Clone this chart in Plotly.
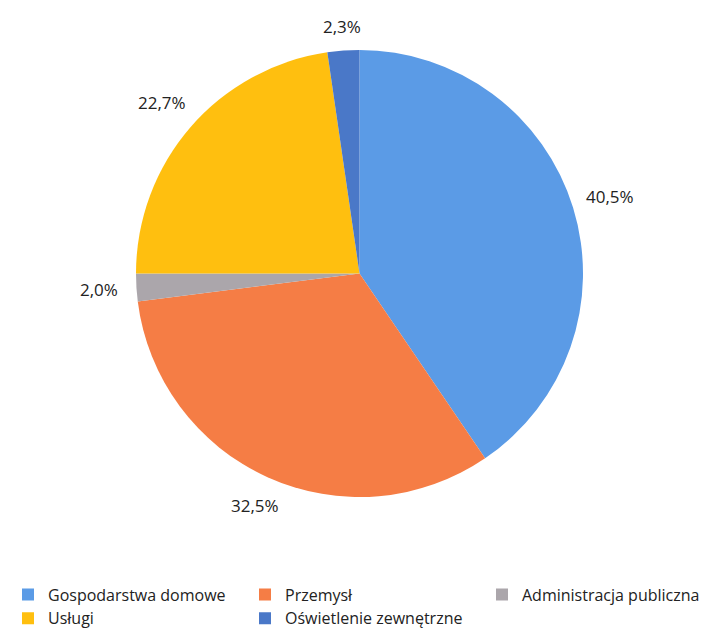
import math
import plotly.graph_objects as go

# data
labels = ["Gospodarstwa domowe", "Przemysł", "Administracja publiczna", "Usługi", "Oświetlenie zewnętrzne"]
values = [40.5, 32.5, 2.0, 22.7, 2.3]
colors = ["#5b9be6", "#f57d45", "#aba6ab", "#ffbf0f", "#4a78c8"]

# page has an 8px body margin, so coordinates below are shifted by 8px
W, H = 710, 623
# pie placement in figure pixels (domain)
x0, x1, y0, y1 = 128, 575, 39, 492
cx, cy = (x0 + x1) / 2, (y0 + y1) / 2
r = min(x1 - x0, y1 - y0) / 2

fig = go.Figure(
    go.Pie(
        labels=labels,
        values=values,
        sort=False,
        direction="clockwise",
        rotation=0,
        marker=dict(colors=colors),
        textinfo="none",
        domain=dict(x=[x0 / W, x1 / W], y=[1 - y1 / H, 1 - y0 / H]),
        hoverinfo="label+value",
    )
)

# percentage labels outside the slices, no leader lines
total = sum(values)
cum = 0
for v in values:
    mid = (cum + v / 2) / total * 2 * math.pi
    cum += v
    dx, dy = math.sin(mid), -math.cos(mid)
    d = r + 12 + abs(dx) * 25 + abs(dy) * 10
    fig.add_annotation(
        x=(cx + dx * d) / W,
        y=1 - (cy + dy * d) / H,
        xref="paper",
        yref="paper",
        xanchor="center",
        yanchor="middle",
        text=f"{v:.1f}%".replace(".", ","),
        showarrow=False,
        font=dict(size=17, color="#222222"),
    )

fig.update_layout(
    width=W,
    height=H,
    font=dict(family="Open Sans, Noto Sans, sans-serif", color="#222222"),
    paper_bgcolor="white",
    margin=dict(l=0, r=0, t=0, b=0, autoexpand=False),
    legend=dict(
        orientation="h",
        x=0,
        y=0.0393,
        xanchor="left",
        yanchor="middle",
        entrywidth=192,
        entrywidthmode="pixels",
        font=dict(size=16, color="#222222"),
    ),
)

fig.write_html("out.html")
